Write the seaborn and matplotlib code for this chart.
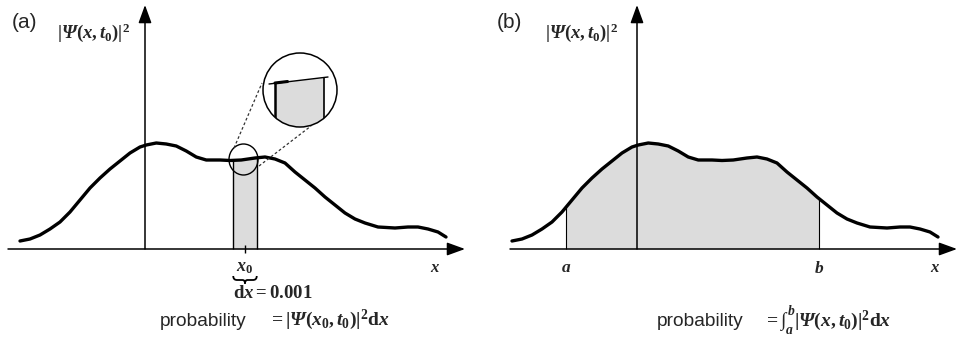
import numpy as np
import matplotlib
matplotlib.use("Agg")
import matplotlib.pyplot as plt
import seaborn as sns
from matplotlib.patches import Ellipse, Polygon, PathPatch
from matplotlib.path import Path

# Probability density |Psi(x, t0)|^2 sampled along x (arbitrary units)
x_pos = [-5.0, -4.6, -4.2, -3.8, -3.4, -3.0, -2.6, -2.2, -1.8, -1.4, -1.0,
         -0.6, -0.2, 0.05, 0.45, 0.85, 1.25, 1.65, 2.05, 2.45, 3.0, 3.4,
         3.85, 4.4, 4.8, 5.2, 5.6, 6.0, 6.4, 6.8, 7.2, 7.6, 8.0, 8.4, 8.8,
         9.32, 10.0, 10.52, 10.92, 11.32, 11.72, 12.04]
psi_sq = [0.08, 0.10, 0.14, 0.20, 0.27, 0.37, 0.49, 0.61, 0.71, 0.80, 0.88,
          0.96, 1.02, 1.04, 1.06, 1.05, 1.03, 0.98, 0.92, 0.89, 0.89, 0.885,
          0.89, 0.91, 0.92, 0.90, 0.86, 0.77, 0.69, 0.61, 0.52, 0.44, 0.36,
          0.30, 0.26, 0.22, 0.21, 0.22, 0.22, 0.20, 0.17, 0.12]

x0 = 4.0            # point of the thin strip in panel (a)
strip_half = 0.47   # half width of the strip drawn for dx
a_lim, b_lim = -2.84, 7.28   # integration limits in panel (b)

panel_tags = ["(a)", "(b)"]
density_label = r"$|\mathsf{\Psi}(x,t_0)|^2$"
eq_point = r"$=|\mathsf{\Psi}(x_0,t_0)|^2\mathrm{d}x$"
eq_range = r"$=\int_a^b|\mathsf{\Psi}(x,t_0)|^2\mathrm{d}x$"
dx_text = r"$\mathrm{d}x\mathrm{=0.001}$"

sns.set_theme(style="white")
plt.rcParams.update({
    "mathtext.fontset": "custom",
    "mathtext.rm": "Liberation Serif:bold",
    "mathtext.it": "Liberation Serif:italic:bold",
    "mathtext.bf": "Liberation Serif:bold",
    "mathtext.sf": "Liberation Serif:italic:bold",
    "font.family": ["Liberation Sans", "DejaVu Sans"],
})

SHADE = "#dcdcdc"
W, H = 957, 345
fig = plt.figure(figsize=(W / 100, H / 100), dpi=100)
fig.patch.set_facecolor("white")
ax_a = fig.add_axes([0, 0, 480 / W, 1])
ax_b = fig.add_axes([492 / W, 0, 465 / W, 1])
for ax, right in ((ax_a, 13.4), (ax_b, 12.8)):
    ax.set_xlim(-5.8, right)
    ax.set_ylim(-0.96, 2.49)
    ax.axis("off")

xs = np.asarray(x_pos)
ys = np.asarray(psi_sq)


def arrow(ax, start, end):
    ax.annotate("", xy=end, xytext=start, xycoords="data",
                arrowprops=dict(arrowstyle="-|>,head_length=0.55,head_width=0.2",
                                mutation_scale=20, lw=1.1, color="black",
                                shrinkA=0, shrinkB=0),
                annotation_clip=False, zorder=3)


def shade_between(ax, lo, hi, edge_lw):
    inside = (xs > lo) & (xs < hi)
    fx = np.concatenate([[lo], xs[inside], [hi]])
    fy = np.interp(fx, xs, ys)
    ax.fill_between(fx, 0, fy, color=SHADE, lw=0, zorder=1)
    ax.vlines([lo, hi], 0, [fy[0], fy[-1]], color="black", lw=edge_lw, zorder=2)


def draw_panel(ax, tag, x_start):
    arrow(ax, (x_start, 0), (12.8, 0))
    arrow(ax, (0, 0), (0, 2.44))
    sns.lineplot(x=x_pos, y=psi_sq, ax=ax, color="black", lw=2.4,
                 sort=False, zorder=4, solid_joinstyle="round",
                 solid_capstyle="round")
    ax.text(-5.32 if tag == "(a)" else -5.6, 2.26, tag, fontsize=15,
            ha="left", va="center", family=["Liberation Sans"])
    ax.text(-3.52 if tag == "(a)" else -3.68, 2.16, density_label,
            fontsize=13.5, ha="left", va="center")
    ax.text(11.6 if tag == "(a)" else 11.92, -0.19, r"$x$", fontsize=12,
            ha="center", va="center")


# ---------- panel (a): probability in a strip of width dx ----------
draw_panel(ax_a, "(a)", -5.48)
shade_between(ax_a, x0 - strip_half, x0 + strip_half, 1.0)
ax_a.vlines(x0, -0.04, 0.04, color="black", lw=1.0, zorder=3)
ax_a.text(x0, -0.19, r"$x_0$", fontsize=13, ha="center", va="center")

# brace under x0
bl, br = x0 - strip_half, x0 + strip_half
yt, ym, yb = -0.27, -0.31, -0.345
verts = [(bl, yt), (bl, ym), (bl + 0.15, ym), (x0 - 0.1, ym), (x0, ym), (x0, yb),
         (x0, ym), (x0 + 0.1, ym), (br - 0.15, ym), (br, ym), (br, yt)]
codes = [Path.MOVETO, Path.CURVE3, Path.CURVE3, Path.LINETO, Path.CURVE3,
         Path.CURVE3, Path.CURVE3, Path.CURVE3, Path.LINETO, Path.CURVE3,
         Path.CURVE3]
ax_a.add_patch(PathPatch(Path(verts, codes), fill=False, lw=1.3,
                         edgecolor="black", zorder=3))
ax_a.text(5.1, -0.45, dx_text, fontsize=13.5, ha="center", va="center")
ax_a.text(0.6, -0.73, "probability", fontsize=13.8, ha="left", va="center")
ax_a.text(4.92, -0.71, eq_point, fontsize=14, ha="left", va="center")

# small circle around the strip top and the magnified view
ax_a.add_patch(Ellipse((3.94, 0.895), 1.16, 0.31, fill=False, lw=1.0,
                       edgecolor="black", zorder=5))
dash = (0, (2.2, 1.8))
ax_a.plot([3.56, 4.68], [1.01, 1.66], color="#333333", lw=0.9, ls=dash, zorder=5)
ax_a.plot([4.56, 6.64], [0.83, 1.23], color="#333333", lw=0.9, ls=dash, zorder=5)

lens = Ellipse((6.2, 1.59), 2.96, 0.74, facecolor="white", edgecolor="none", zorder=6)
ax_a.add_patch(lens)
zoom_bar = Polygon([(5.2, 1.66), (7.16, 1.71), (7.16, 1.0), (5.2, 1.0)],
                   closed=True, facecolor=SHADE, edgecolor="none", zorder=7)
ax_a.add_patch(zoom_bar)
zoom_bar.set_clip_path(lens)
for xv, lw, top in ((5.2, 1.8, 1.66), (7.16, 1.2, 1.71)):
    ln, = ax_a.plot([xv, xv], [top, 1.0], color="black", lw=lw, zorder=8)
    ln.set_clip_path(lens)
ax_a.plot([4.96, 7.32], [1.65, 1.72], color="black", lw=1.0, zorder=8)
ax_a.plot([5.2, 5.7], [1.66, 1.675], color="black", lw=2.2, zorder=8)
ax_a.add_patch(Ellipse((6.2, 1.59), 2.96, 0.74, fill=False, lw=1.1,
                       edgecolor="black", zorder=9))

# ---------- panel (b): probability between a and b ----------
draw_panel(ax_b, "(b)", -5.08)
shade_between(ax_b, a_lim, b_lim, 0.8)
ax_b.text(a_lim, -0.19, r"$a$", fontsize=12.5, ha="center", va="center")
ax_b.text(b_lim, -0.19, r"$b$", fontsize=12.5, ha="center", va="center")
ax_b.text(0.8, -0.73, "probability", fontsize=13.8, ha="left", va="center")
ax_b.text(5.04, -0.72, eq_range, fontsize=14, ha="left", va="center")

fig.savefig("out.png", dpi=100, facecolor="white")
